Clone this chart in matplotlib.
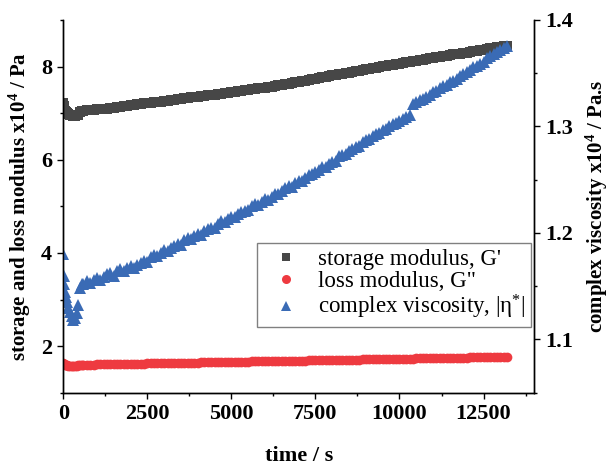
import matplotlib
matplotlib.use("Agg")
import matplotlib.pyplot as plt
from matplotlib.lines import Line2D
from matplotlib.ticker import MultipleLocator

plt.rcParams['font.family'] = ['Liberation Serif', 'DejaVu Serif']
plt.rcParams['mathtext.fontset'] = 'custom'
plt.rcParams['mathtext.rm'] = 'Liberation Serif'
plt.rcParams['mathtext.it'] = 'Liberation Serif:italic'
plt.rcParams['mathtext.bf'] = 'Liberation Serif:bold'

# time (s)
time_s = [0, 15, 30, 50, 75, 100, 150, 200, 250, 300, 350, 400, 450, 500, 550,
          600, 700, 800, 900, 1000, 1100, 1200, 1300, 1400, 1500,
          1600, 1700, 1800, 1900, 2000, 2100, 2200, 2300, 2400, 2500,
          2600, 2700, 2800, 2900, 3000, 3100, 3200, 3300, 3400, 3500,
          3600, 3700, 3800, 3900, 4000, 4100, 4200, 4300, 4400, 4500,
          4600, 4700, 4800, 4900, 5000, 5100, 5200, 5300, 5400, 5500,
          5600, 5700, 5800, 5900, 6000, 6100, 6200, 6300, 6400, 6500,
          6600, 6700, 6800, 6900, 7000, 7100, 7200, 7300, 7400, 7500,
          7600, 7700, 7800, 7900, 8000, 8100, 8200, 8300, 8400, 8500,
          8600, 8700, 8800, 8900, 9000, 9100, 9200, 9300, 9400, 9500,
          9600, 9700, 9800, 9900, 10000, 10100, 10200, 10300, 10400, 10500,
          10600, 10700, 10800, 10900, 11000, 11100, 11200, 11300, 11400, 11500,
          11600, 11700, 11800, 11900, 12000, 12100, 12200, 12300, 12400, 12500,
          12600, 12700, 12800, 12900, 13000, 13100, 13200]

# storage modulus G' (x10^4 Pa)
storage = [7.22, 7.15, 7.10, 7.05, 7.02, 7.00, 6.98, 6.96, 6.95, 6.94, 6.94, 6.95, 6.97, 7.03, 7.05,
           7.05, 7.06, 7.06, 7.07, 7.08, 7.09, 7.10, 7.10, 7.11, 7.12,
           7.13, 7.14, 7.15, 7.16, 7.17, 7.18, 7.19, 7.20, 7.21, 7.21,
           7.22, 7.23, 7.24, 7.25, 7.26, 7.27, 7.28, 7.29, 7.30, 7.31,
           7.32, 7.33, 7.34, 7.34, 7.35, 7.36, 7.37, 7.38, 7.39, 7.40,
           7.41, 7.42, 7.43, 7.44, 7.45, 7.46, 7.47, 7.48, 7.49, 7.50,
           7.51, 7.52, 7.53, 7.54, 7.55, 7.56, 7.57, 7.58, 7.60, 7.61,
           7.62, 7.63, 7.65, 7.66, 7.67, 7.69, 7.70, 7.71, 7.73, 7.74,
           7.75, 7.77, 7.78, 7.79, 7.81, 7.82, 7.83, 7.85, 7.86, 7.87,
           7.89, 7.90, 7.91, 7.93, 7.94, 7.95, 7.97, 7.98, 7.99, 8.01,
           8.02, 8.03, 8.04, 8.05, 8.06, 8.08, 8.09, 8.10, 8.12, 8.13,
           8.14, 8.15, 8.16, 8.18, 8.19, 8.20, 8.21, 8.22, 8.23, 8.25,
           8.26, 8.27, 8.28, 8.29, 8.30, 8.32, 8.33, 8.34, 8.35, 8.36,
           8.37, 8.39, 8.40, 8.41, 8.42, 8.44, 8.45]

# loss modulus G'' (x10^4 Pa)
loss = [1.63, 1.62, 1.61, 1.60, 1.60, 1.59, 1.58, 1.58, 1.575, 1.575, 1.58, 1.58, 1.59, 1.60, 1.60,
        1.600, 1.601, 1.603, 1.604, 1.606, 1.607, 1.608, 1.610, 1.611, 1.613,
        1.614, 1.615, 1.617, 1.618, 1.620, 1.621, 1.622, 1.624, 1.625, 1.627,
        1.628, 1.629, 1.631, 1.632, 1.634, 1.635, 1.636, 1.638, 1.639, 1.641,
        1.642, 1.643, 1.645, 1.646, 1.648, 1.649, 1.650, 1.652, 1.653, 1.655,
        1.656, 1.657, 1.659, 1.660, 1.662, 1.663, 1.664, 1.666, 1.667, 1.668,
        1.670, 1.671, 1.672, 1.674, 1.675, 1.676, 1.678, 1.679, 1.680, 1.682,
        1.683, 1.684, 1.686, 1.687, 1.688, 1.690, 1.691, 1.692, 1.694, 1.695,
        1.696, 1.698, 1.699, 1.700, 1.702, 1.703, 1.704, 1.706, 1.707, 1.708,
        1.710, 1.711, 1.712, 1.714, 1.715, 1.716, 1.718, 1.719, 1.720, 1.722,
        1.723, 1.724, 1.726, 1.727, 1.728, 1.730, 1.731, 1.732, 1.734, 1.735,
        1.736, 1.738, 1.739, 1.740, 1.742, 1.743, 1.744, 1.746, 1.747, 1.748,
        1.750, 1.751, 1.752, 1.754, 1.755, 1.756, 1.758, 1.759, 1.760, 1.762,
        1.763, 1.764, 1.766, 1.767, 1.768, 1.770, 1.771]

# complex viscosity |eta*| (x10^4 Pa.s)
viscosity = [1.180, 1.160, 1.152, 1.145, 1.140, 1.135, 1.130, 1.126, 1.122, 1.118, 1.120, 1.125, 1.132, 1.148, 1.152,
             1.152, 1.155, 1.153, 1.156, 1.158, 1.156, 1.159, 1.161, 1.162, 1.160,
             1.164, 1.166, 1.164, 1.167, 1.169, 1.167, 1.170, 1.172, 1.174, 1.173,
             1.177, 1.179, 1.178, 1.181, 1.184, 1.183, 1.186, 1.188, 1.190, 1.189,
             1.193, 1.195, 1.194, 1.197, 1.199, 1.198, 1.202, 1.204, 1.205, 1.205,
             1.208, 1.211, 1.210, 1.213, 1.215, 1.215, 1.218, 1.220, 1.221, 1.222,
             1.225, 1.227, 1.226, 1.229, 1.232, 1.231, 1.234, 1.237, 1.237, 1.239,
             1.242, 1.244, 1.243, 1.247, 1.249, 1.249, 1.252, 1.254, 1.255, 1.257,
             1.259, 1.262, 1.262, 1.265, 1.267, 1.268, 1.272, 1.273, 1.274, 1.277,
             1.279, 1.281, 1.282, 1.285, 1.287, 1.288, 1.291, 1.293, 1.294, 1.297,
             1.298, 1.300, 1.302, 1.303, 1.305, 1.307, 1.309, 1.311, 1.321, 1.323,
             1.325, 1.326, 1.328, 1.330, 1.332, 1.333, 1.336, 1.338, 1.339, 1.342,
             1.343, 1.345, 1.347, 1.349, 1.351, 1.353, 1.356, 1.357, 1.359, 1.361,
             1.364, 1.366, 1.368, 1.370, 1.372, 1.374, 1.376]

labels = ["storage modulus, G'", 'loss modulus, G"', r"complex viscosity, |$\mathregular{\eta^{*}}$|"]
colors = ['#474747', '#EE3A40', '#3A6BB5']
markers = ['s', 'o', '^']

fig = plt.figure(figsize=(6.12, 4.67), dpi=100)
ax = fig.add_axes([0.1034, 0.1591, 0.7691, 0.7981])
ax2 = ax.twinx()

ax.plot(time_s, storage, linestyle='none', marker=markers[0], ms=6.5, color=colors[0], mew=0)
ax.plot(time_s, loss, linestyle='none', marker=markers[1], ms=7, color=colors[1], mew=0)
ax2.plot(time_s, viscosity, linestyle='none', marker=markers[2], ms=9, color=colors[2], mew=0)

ax.set_xlim(0, 14000)
ax.set_ylim(1, 9)
ax2.set_ylim(1.05, 1.40)

for a in (ax, ax2):
    a.spines['top'].set_visible(False)
    for s in a.spines.values():
        s.set_linewidth(1.0)
    a.tick_params(which='major', direction='out', length=4, width=1.0, labelsize=16, pad=4)
    a.tick_params(which='minor', direction='out', length=2.5, width=1.0)

ax.xaxis.set_major_locator(MultipleLocator(2500))
ax.xaxis.set_minor_locator(MultipleLocator(1250))
ax.yaxis.set_major_locator(MultipleLocator(2))
ax.yaxis.set_minor_locator(MultipleLocator(1))
ax2.set_yticks([1.1, 1.2, 1.3, 1.4])
ax2.yaxis.set_minor_locator(MultipleLocator(0.05))

for lab in ax.get_xticklabels() + ax.get_yticklabels() + ax2.get_yticklabels():
    lab.set_fontweight('bold')

ax.set_xlabel('time / s', fontsize=16, fontweight='bold', labelpad=16)
ax.set_ylabel(r'storage and loss modulus x10$\mathbf{^4}$ / Pa', fontsize=15, fontweight='bold', labelpad=6)
ax2.set_ylabel(r'complex viscosity x10$\mathbf{^4}$ / Pa.s', fontsize=15, fontweight='bold', labelpad=8)

legend_sizes = [5.5, 6.5, 7]
handles = [Line2D([], [], linestyle='none', marker=m, ms=s, color=c, mew=0)
           for m, s, c in zip(markers, legend_sizes, colors)]
leg = ax2.legend(handles, labels, loc='upper right', bbox_to_anchor=(0.9936, 0.4017),
                 borderaxespad=0, fontsize=16.5, frameon=True, fancybox=False,
                 edgecolor='#808080', framealpha=1, handlelength=2.03, handletextpad=0.38,
                 borderpad=0.25, labelspacing=0.05)
leg.get_frame().set_linewidth(1.0)

fig.savefig('out.png', dpi=100)
